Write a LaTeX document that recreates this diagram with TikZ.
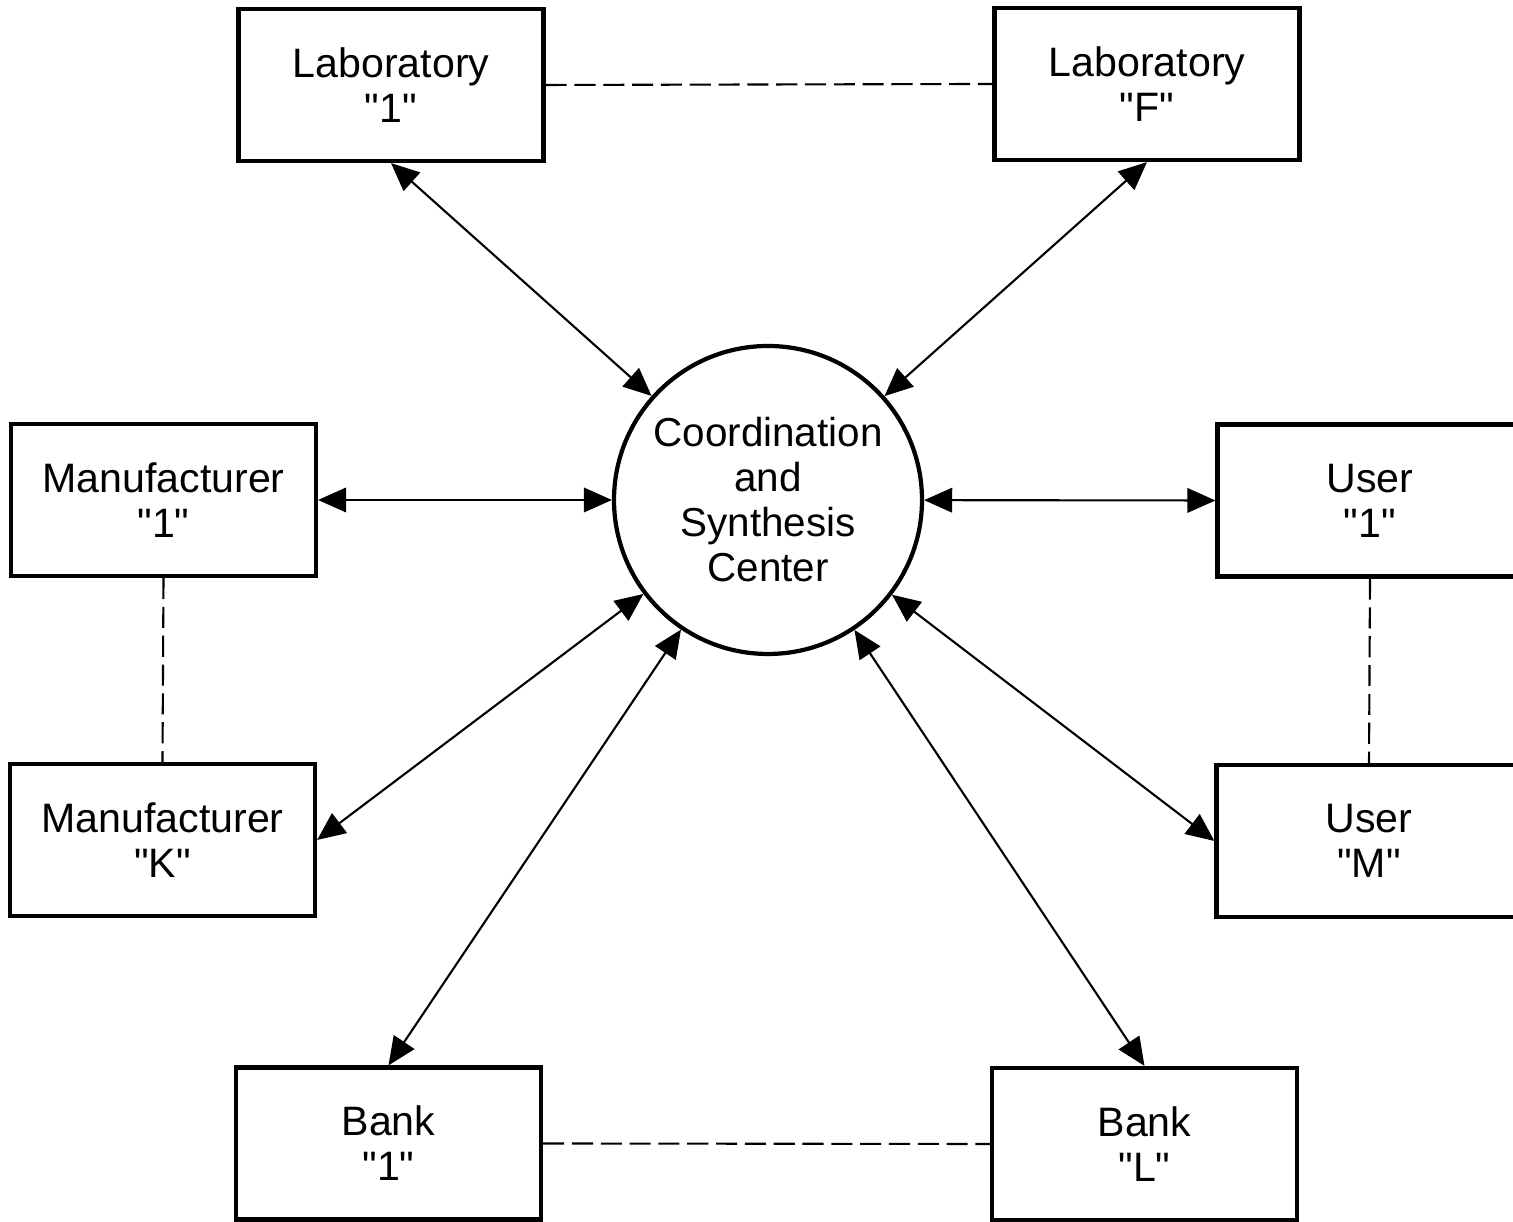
\documentclass[tikz,border=0pt]{standalone}
\usepackage{fontspec}
\setmainfont{Liberation Sans}
\usetikzlibrary{arrows.meta}
\newcommand{\qtd}[1]{\textquotedbl#1\textquotedbl}

\begin{document}
\begin{tikzpicture}
\tikzstyle{unit}=[rectangle, draw=black, line width=1.2pt, minimum width=3.05cm, minimum height=1.52cm, align=center, font=\fontsize{11.7}{12.8}\selectfont]
\tikzstyle{hub}=[circle, draw=black, line width=1.2pt, minimum size=3.08cm, inner sep=0pt, align=center, font=\fontsize{11.5}{12.8}\selectfont]
\tikzstyle{connect}=[{Triangle[length=8pt,width=7pt]}-{Triangle[length=8pt,width=7pt]}, line width=0.6pt]
\tikzstyle{link}=[dash pattern=on 6pt off 2.2pt, line width=0.6pt]

\clip (0,0) rectangle (15.13,12.22);

  \node[hub] (csc) at (7.68,7.22) {Coordination\\and\\Synthesis\\Center};

  \node[unit] (lab1) at (3.91,11.37) {Laboratory\\\qtd{1}};
  \node[unit] (labf) at (11.47,11.38) {Laboratory\\\qtd{F}};
  \node[unit] (man1) at (1.635,7.22) {Manufacturer\\\qtd{1}};
  \node[unit] (mank) at (1.625,3.82) {Manufacturer\\\qtd{K}};
  \node[unit] (user1) at (13.70,7.215) {User\\\qtd{1}};
  \node[unit] (userm) at (13.69,3.81) {User\\\qtd{M}};
  \node[unit] (bank1) at (3.885,0.785) {Bank\\\qtd{1}};
  \node[unit] (bankl) at (11.445,0.78) {Bank\\\qtd{L}};

  % links to the center
  \draw[connect] (lab1.south) -- (csc);
  \draw[connect] (labf.south) -- (csc);
  \draw[connect] (man1.east) -- (csc);
  \draw[connect] (user1.west) -- (csc);
  \draw[connect] (mank.east) -- (csc);
  \draw[connect] (userm.west) -- (csc);
  \draw[connect] (bank1.north) -- (csc);
  \draw[connect] (bankl.north) -- (csc);

  % same kind
  \draw[link] (lab1.east) -- (labf.west);
  \draw[link] (man1.south) -- (mank.north);
  \draw[link] (user1.south) -- (userm.north);
  \draw[link] (bank1.east) -- (bankl.west);
\end{tikzpicture}
\end{document}
